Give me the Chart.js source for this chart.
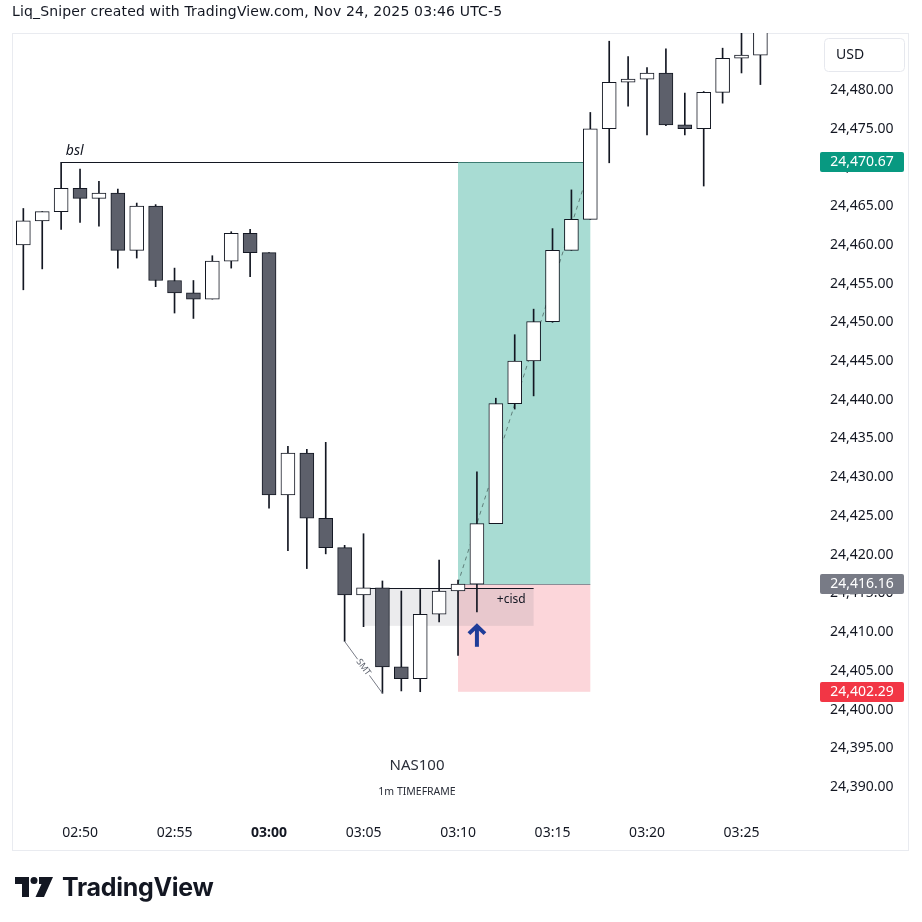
<!DOCTYPE html>
<html>
<head>
<meta charset="utf-8">
<script src="https://cdn.jsdelivr.net/npm/chart.js@4"></script>
<style>
  html, body { margin: 0; padding: 0; background: #fff; }
  #wrap { position: relative; width: 922px; height: 922px; overflow: hidden; }
  #chart { position: absolute; left: 0; top: 0; }
  #hdr { position: absolute; left: 12px; top: 3px; font: 14px 'DejaVu Sans', sans-serif; letter-spacing: 0.15px; color: #131722; white-space: nowrap; }
  #logo { position: absolute; left: 15px; top: 872px; display: flex; align-items: center; }
  #logo span { font: 700 25px Inter, sans-serif; color: #131722; margin-left: 9px; letter-spacing: -0.3px; }
</style>
</head>
<body>
<div id="wrap">
  <canvas id="chart" width="922" height="922"></canvas>
  <div id="hdr">Liq_Sniper created with TradingView.com, Nov 24, 2025 03:46 UTC-5</div>
  <div id="logo">
    <svg width="38" height="20" viewBox="0 0 38 20">
      <path d="M0 0H14V20H7V7H0Z" fill="#131722"/>
      <circle cx="19" cy="3.5" r="3.5" fill="#131722"/>
      <path d="M24 0H38L29 20H20.5L26.5 7H24Z" fill="#131722"/>
    </svg>
    <span>TradingView</span>
  </div>
</div>
<script>
// 1m candles, NAS100
const times = ['02:47','02:48','02:49','02:50','02:51','02:52','02:53','02:54','02:55','02:56',
  '02:57','02:58','02:59','03:00','03:01','03:02','03:03','03:04','03:05','03:06',
  '03:07','03:08','03:09','03:10','03:11','03:12','03:13','03:14','03:15','03:16',
  '03:17','03:18','03:19','03:20','03:21','03:22','03:23','03:24','03:25','03:26'];
const opens = [24460.0,24463.1,24464.3,24467.3,24466.0,24466.7,24459.3,24465.0,24455.4,24453.8,
  24453.0,24457.9,24461.5,24459.0,24427.7,24433.1,24424.7,24420.9,24414.8,24415.7,
  24405.5,24404.0,24412.3,24415.3,24416.2,24424.0,24439.5,24445.0,24450.1,24459.3,
  24463.3,24475.0,24481.0,24481.4,24482.2,24475.5,24475.0,24479.7,24484.1,24484.5];
const highs = [24464.7,24464.3,24470.67,24469.8,24468.2,24467.2,24465.4,24465.2,24457.0,24455.4,
  24458.6,24461.7,24462.0,24459.0,24434.0,24433.6,24434.5,24421.2,24422.7,24416.6,
  24415.3,24415.5,24419.3,24416.7,24430.7,24440.2,24448.4,24451.7,24462.1,24467.1,
  24477.1,24486.3,24484.3,24482.9,24485.3,24479.6,24479.8,24485.4,24487.5,24490.0];
const lows = [24454.2,24456.9,24462.0,24462.9,24462.4,24457.0,24458.3,24454.6,24451.2,24450.5,
  24453.0,24457.0,24455.9,24426.0,24420.5,24418.2,24420.1,24408.8,24410.7,24402.1,
  24402.4,24402.3,24411.3,24407.0,24412.6,24424.0,24438.8,24440.5,24450.0,24459.3,
  24463.3,24470.6,24477.9,24474.2,24475.4,24474.2,24467.6,24478.3,24482.2,24480.7];
const closes = [24463.1,24464.3,24467.3,24466.0,24466.7,24459.3,24465.0,24455.4,24453.8,24453.0,
  24457.9,24461.5,24459.0,24427.7,24433.1,24424.7,24420.9,24414.8,24415.7,24405.5,
  24404.0,24412.3,24415.3,24416.2,24424.0,24439.5,24445.0,24450.1,24459.3,24463.3,
  24475.0,24481.0,24481.4,24482.2,24475.5,24475.0,24479.7,24484.1,24484.5,24488.5];

const timeTicks = ['02:50','02:55','03:00','03:05','03:10','03:15','03:20','03:25'];
const priceTicks = [24390,24395,24400,24405,24410,24415,24420,24425,24430,24435,
  24440,24445,24450,24455,24460,24465,24470,24475,24480];

// long position + markup levels
const target = 24470.67, entry = 24416.16, stop = 24402.29;
const cisdTop = 24415.7, cisdBottom = 24410.8;
const trendFrom = 24416.3, trendTo = 24468.7;

const ix = t => times.indexOf(t);
const fmt = v => v.toLocaleString('en-US', { minimumFractionDigits: 2, maximumFractionDigits: 2 });
const INK = '#131722';
const BEAR = '#5d606b';

const bodies = times.map((t, i) => ({ x: i, y: [opens[i], closes[i]] }));
const wicks = times.map((t, i) => ({ x: i, y: [lows[i], highs[i]] }));

function rrect(ctx, x, y, w, h, r) {
  ctx.beginPath();
  ctx.moveTo(x + r, y);
  ctx.arcTo(x + w, y, x + w, y + h, r);
  ctx.arcTo(x + w, y + h, x, y + h, r);
  ctx.arcTo(x, y + h, x, y, r);
  ctx.arcTo(x, y, x + w, y, r);
  ctx.closePath();
}

const markup = {
  id: 'markup',
  beforeDraw(chart) {
    const ctx = chart.ctx;
    ctx.save();
    ctx.strokeStyle = '#e9ebf0';
    ctx.lineWidth = 1;
    ctx.strokeRect(12.5, 33.5, 896, 817);
    // currency box
    rrect(ctx, 824.5, 38.5, 80, 33, 4);
    ctx.strokeStyle = '#e6e8ee';
    ctx.stroke();
    ctx.fillStyle = INK;
    ctx.font = '14px "Noto Sans"';
    ctx.textBaseline = 'middle';
    ctx.fillText('USD', 836, 55);
    ctx.restore();
  },
  beforeDatasetsDraw(chart) {
    const { ctx, chartArea: a, scales: { x, y } } = chart;
    ctx.save();
    ctx.beginPath();
    ctx.rect(a.left, a.top, a.width, a.height);
    ctx.clip();
    const x0 = x.getPixelForValue(ix('03:10')), x1 = x.getPixelForValue(ix('03:17'));
    const yT = y.getPixelForValue(target), yE = y.getPixelForValue(entry), yS = y.getPixelForValue(stop);
    ctx.fillStyle = '#a8dcd3';
    ctx.fillRect(x0, yT, x1 - x0, yE - yT);
    ctx.fillStyle = '#fcd6da';
    ctx.fillRect(x0, yE, x1 - x0, yS - yE);
    ctx.strokeStyle = '#8a8d96';
    ctx.beginPath(); ctx.moveTo(x0, Math.round(yE) + 0.5); ctx.lineTo(x1, Math.round(yE) + 0.5); ctx.stroke();
    // cisd range
    const c0 = x.getPixelForValue(ix('03:05')), c1 = x.getPixelForValue(ix('03:14'));
    const cT = y.getPixelForValue(cisdTop), cB = y.getPixelForValue(cisdBottom);
    ctx.fillStyle = 'rgba(120,123,134,0.15)';
    ctx.fillRect(c0, cT, c1 - c0, cB - cT);
    ctx.strokeStyle = INK;
    ctx.beginPath(); ctx.moveTo(c0, Math.round(cT) + 0.5); ctx.lineTo(c1, Math.round(cT) + 0.5); ctx.stroke();
    // bsl
    const b0 = x.getPixelForValue(ix('02:49'));
    ctx.beginPath(); ctx.moveTo(b0, Math.round(yT) + 0.5); ctx.lineTo(x0, Math.round(yT) + 0.5); ctx.stroke();
    ctx.strokeStyle = '#3c7c72';
    ctx.beginPath(); ctx.moveTo(x0, Math.round(yT) + 0.5); ctx.lineTo(x1, Math.round(yT) + 0.5); ctx.stroke();
    ctx.restore();
  },
  afterDatasetsDraw(chart) {
    const { ctx, scales: { x, y } } = chart;
    ctx.save();
    ctx.fillStyle = INK;
    ctx.textBaseline = 'middle';
    ctx.font = 'italic 14px "Noto Sans"';
    ctx.fillText('bsl', x.getPixelForValue(2.25), y.getPixelForValue(24472.1));
    ctx.font = '12px "Noto Sans"';
    ctx.fillText('+cisd', x.getPixelForValue(25.05), y.getPixelForValue(24414.2));
    // SMT link between lows
    const s0x = x.getPixelForValue(ix('03:04')), s0y = y.getPixelForValue(lows[ix('03:04')]);
    const s1x = x.getPixelForValue(ix('03:06')), s1y = y.getPixelForValue(lows[ix('03:06')]);
    const mx = (s0x + s1x) / 2, my = (s0y + s1y) / 2;
    const ang = Math.atan2(s1y - s0y, s1x - s0x);
    const gap = 10;
    ctx.strokeStyle = '#787b86';
    ctx.lineWidth = 1;
    ctx.beginPath();
    ctx.moveTo(s0x, s0y);
    ctx.lineTo(mx - Math.cos(ang) * gap, my - Math.sin(ang) * gap);
    ctx.moveTo(mx + Math.cos(ang) * gap, my + Math.sin(ang) * gap);
    ctx.lineTo(s1x, s1y);
    ctx.stroke();
    ctx.translate(mx, my);
    ctx.rotate(ang);
    ctx.fillStyle = '#555a66';
    ctx.font = '9px "Noto Sans"';
    ctx.textAlign = 'center';
    ctx.fillText('SMT', 0, 0);
    ctx.setTransform(1, 0, 0, 1, 0, 0);
    // entry arrow
    const ax = x.getPixelForValue(ix('03:11'));
    const aT = y.getPixelForValue(24410.9), aB = y.getPixelForValue(24408.1);
    ctx.strokeStyle = '#1f3d99';
    ctx.lineWidth = 4;
    ctx.lineCap = 'butt';
    ctx.beginPath(); ctx.moveTo(ax, aB); ctx.lineTo(ax, aT + 2); ctx.stroke();
    ctx.lineJoin = 'miter';
    ctx.beginPath(); ctx.moveTo(ax - 8, aT + 8.5); ctx.lineTo(ax, aT + 1); ctx.lineTo(ax + 8, aT + 8.5); ctx.stroke();
    // watermark
    ctx.fillStyle = '#2a2e39';
    ctx.textAlign = 'center';
    ctx.font = '15px "Noto Sans"';
    ctx.fillText('NAS100', x.getPixelForValue(20.83), y.getPixelForValue(24392.7));
    ctx.font = '10.5px "Noto Sans"';
    ctx.fillText('1m TIMEFRAME', x.getPixelForValue(20.83), y.getPixelForValue(24389.35));
    ctx.restore();
  },
  afterDraw(chart) {
    const { ctx, scales: { y } } = chart;
    ctx.save();
    ctx.font = '14px "Noto Sans"';
    ctx.textAlign = 'center';
    ctx.textBaseline = 'middle';
    [[target, '#089981'], [entry, '#787b86'], [stop, '#f23645']].forEach(([v, bg]) => {
      const py = Math.round(y.getPixelForValue(v));
      rrect(ctx, 820, py - 10, 84, 20, 2);
      ctx.fillStyle = bg;
      ctx.fill();
      ctx.fillStyle = '#fff';
      ctx.fillText(fmt(v), 862, py);
    });
    ctx.restore();
  }
};

new Chart(document.getElementById('chart'), {
  type: 'bar',
  data: {
    datasets: [{
      type: 'line',
      data: [{ x: ix('03:10'), y: trendFrom }, { x: 29.8, y: trendTo }],
      borderColor: '#5f7f7a',
      borderWidth: 1,
      borderDash: [4, 4],
      pointRadius: 0,
      order: 3
    }, {
      data: wicks,
      backgroundColor: INK,
      borderWidth: 0,
      barThickness: 1,
      grouped: false,
      order: 2
    }, {
      data: bodies,
      backgroundColor: closes.map((c, i) => c >= opens[i] ? '#ffffff' : BEAR),
      borderColor: INK,
      borderWidth: 1,
      borderSkipped: false,
      barThickness: 14,
      grouped: false,
      order: 1
    }]
  },
  plugins: [markup],
  options: {
    responsive: false,
    animation: false,
    layout: { padding: { left: 12, top: 33, right: 14, bottom: 72 } },
    plugins: { legend: { display: false }, tooltip: { enabled: false } },
    scales: {
      x: {
        type: 'linear',
        offset: false,
        min: -0.6,
        max: 41.73,
        grid: { display: false, drawTicks: false, offset: false },
        border: { display: false },
        afterFit: s => { s.height = 35; },
        afterBuildTicks: s => { s.ticks = timeTicks.map(t => ({ value: ix(t) })); },
        ticks: {
          padding: 10,
          color: INK,
          maxRotation: 0,
          autoSkip: false,
          font: c => ({ family: 'Noto Sans', size: 14, weight: c.tick && times[c.tick.value].endsWith(':00') ? 'bold' : 'normal' }),
          callback: v => times[v]
        }
      },
      y: {
        position: 'right',
        min: 24386.38,
        max: 24487.36,
        grid: { display: false, drawTicks: false },
        border: { display: false },
        afterFit: s => { s.width = 96; },
        afterBuildTicks: s => { s.ticks = priceTicks.map(v => ({ value: v })); },
        ticks: {
          padding: 18,
          color: INK,
          font: { family: 'Noto Sans', size: 14 },
          callback: v => fmt(v)
        }
      }
    }
  }
});
</script>
</body>
</html>
